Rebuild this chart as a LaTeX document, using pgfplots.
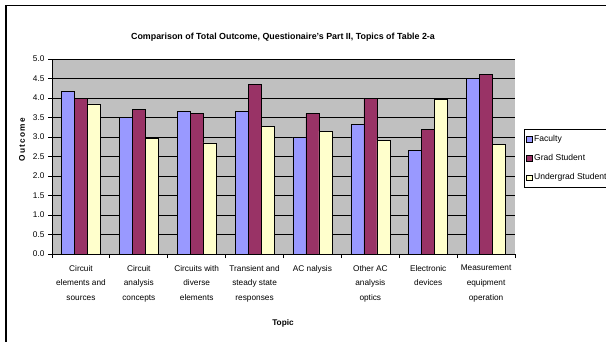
\documentclass[border=0pt]{standalone}
\usepackage{fontspec}
\setmainfont{Liberation Sans}
\usepackage{pgfplots}
\pgfplotsset{compat=1.18}
\definecolor{fac}{HTML}{9999FF}
\definecolor{grad}{HTML}{993366}
\definecolor{und}{HTML}{FFFFCC}
\definecolor{bg}{HTML}{C0C0C0}
\begin{document}
\begin{tikzpicture}[x=1bp,y=1bp]
\useasboundingbox (0,0) rectangle (606,341);
\draw[black, line width=1.3bp] (6,-2) -- (6,335.5) -- (610,335.5);
\begin{axis}[
  at={(52bp,87bp)}, anchor=south west,
  scale only axis, width=463bp, height=195bp,
  ybar=0pt, bar width=13bp,
  xmin=-0.5, xmax=7.5, ymin=0, ymax=5,
  ytick={0,0.5,...,5},
  xtick={-0.5,0.5,...,7.5},
  x tick label as interval,
  xticklabels={{Circuit\\elements and\\sources},{Circuit\\analysis\\concepts},{Circuits with\\diverse\\elements},{Transient and\\steady state\\responses},{AC nalysis},{Other AC\\analysis\\optics},{Electronic\\devices},{Measurement\\equipment\\operation}},
  xticklabel style={align=center, font=\fontsize{8.3}{15}\selectfont, yshift=-3.5bp},
  yticklabel style={font=\fontsize{8.3}{10}\selectfont, /pgf/number format/.cd, fixed, fixed zerofill, precision=1, assume math mode=true},
  axis x line*=bottom, axis y line*=left,
  axis line style={black, line width=0.8bp, -},
  tick align=outside, major tick length=4bp,
  tick style={black, line width=0.8bp},
  ymajorgrids, major grid style={black, line width=0.8bp},
  axis background/.style={fill=bg},
  legend style={at={(1.0194,0.641)}, anchor=north west, draw=black, line width=0.6bp, fill=white,
    font=\fontsize{8.6}{10}\selectfont, row sep=7.5bp, inner xsep=2bp, inner ysep=4bp,
    /tikz/every even column/.append style={column sep=2bp}},
  legend cell align=left,
  legend image code/.code={\draw[#1, line width=0.5bp] (0bp,-2.7bp) rectangle (5.4bp,2.7bp);},
  every axis plot/.append style={draw=black, line width=0.6bp},
]
\addplot[fill=fac] coordinates {(0,4.17) (1,3.50) (2,3.65) (3,3.65) (4,3.00) (5,3.32) (6,2.66) (7,4.50)};
\addplot[fill=grad] coordinates {(0,4.00) (1,3.70) (2,3.60) (3,4.35) (4,3.60) (5,4.00) (6,3.19) (7,4.60)};
\addplot[fill=und] coordinates {(0,3.85) (1,2.97) (2,2.85) (3,3.27) (4,3.15) (5,2.92) (6,3.97) (7,2.81)};
\legend{Faculty,Grad Student,Undergrad Student}
\end{axis}
\node[font=\fontsize{8.9}{10}\selectfont\bfseries] at (283,304) {Comparison of Total Outcome, Questionaire's Part II, Topics of Table 2-a};
\node[font=\fontsize{8.3}{10}\selectfont\bfseries\addfontfeature{LetterSpace=15}, rotate=90] at (22,201) {Outcome};
\node[font=\fontsize{8.3}{10}\selectfont\bfseries] at (283,18) {Topic};
\end{tikzpicture}
\end{document}
